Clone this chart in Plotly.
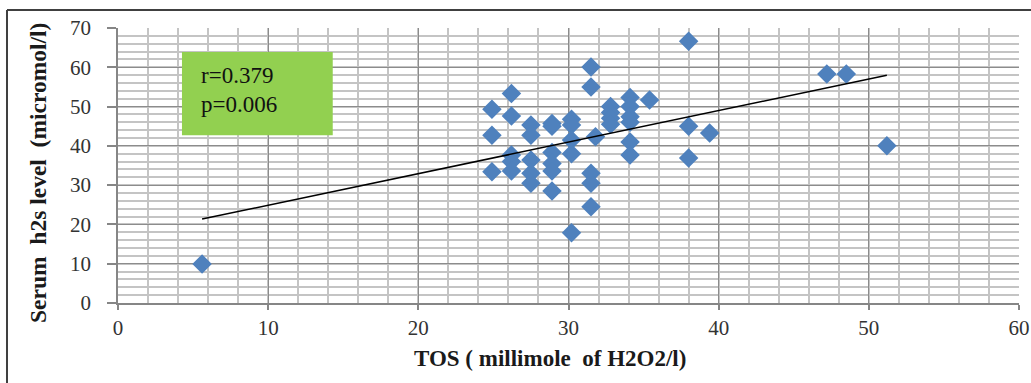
import numpy as np
import plotly.graph_objects as go

# TOS (millimole of H2O2/l) and serum H2S (micromol/l)
tos = [5.6,
       24.9, 24.9, 24.9,
       26.2, 26.2, 26.2, 26.2, 26.2,
       27.5, 27.5, 27.5, 27.5, 27.5,
       28.9, 28.9, 28.9, 28.9, 28.9, 28.9,
       30.2, 30.2, 30.2, 30.2, 30.2,
       31.5, 31.5, 31.5, 31.5, 31.5,
       31.8,
       32.8, 32.8, 32.8, 32.8,
       34.1, 34.1, 34.1, 34.1, 34.1, 34.1,
       35.4,
       38.0, 38.0, 38.0,
       39.4,
       47.2, 48.5, 51.2]
h2s = [9.9,
       49.3, 42.7, 33.4,
       53.3, 47.6, 37.7, 36.0, 33.6,
       45.3, 42.7, 36.4, 33.0, 30.5,
       45.7, 45.0, 38.3, 35.5, 33.6, 28.5,
       46.8, 45.3, 41.5, 38.0, 17.9,
       60.1, 55.0, 33.0, 30.5, 24.5,
       42.3,
       50.0, 48.5, 47.0, 45.5,
       52.3, 50.0, 47.4, 46.0, 41.0, 37.7,
       51.7,
       66.6, 45.0, 36.9,
       43.3,
       58.3, 58.3, 40.0]
x_ticks = [0, 10, 20, 30, 40, 50, 60]
y_ticks = [0, 10, 20, 30, 40, 50, 60, 70]
stats_lines = ["r=0.379", "p=0.006"]
x_title = "<b>TOS ( millimole &nbsp;of H2O2/l)</b>"
y_title = "<b>Serum &nbsp;h2s level &nbsp;(micromol/l)</b>"

x = np.array(tos)
y = np.array(h2s)
slope, intercept = np.polyfit(x, y, 1)
xl = np.array([x.min(), x.max()])
yl = intercept + slope * xl

FONT = "Liberation Serif"

fig = go.Figure()
fig.add_trace(go.Scatter(x=tos, y=h2s, mode="markers",
                         marker=dict(symbol="diamond", size=15, color="#4F81BD",
                                     line=dict(width=0)),
                         showlegend=False, hoverinfo="x+y"))
fig.add_trace(go.Scatter(x=xl, y=yl, mode="lines",
                         line=dict(color="black", width=1.5),
                         showlegend=False, hoverinfo="skip"))

axis_common = dict(
    showline=True, linecolor="#868686", linewidth=1.5,
    ticks="outside", tickcolor="#868686", tickwidth=1.5,
    showgrid=True, gridcolor="#8C8C8C", gridwidth=1.3,
    zeroline=False, mirror=False, automargin=False,
    tickfont=dict(family=FONT, size=21, color="#333333"),
    minor=dict(dtick=2, showgrid=True, gridcolor="#C4C4C4", gridwidth=1.6, ticks=""),
)

fig.update_xaxes(range=[0, 60], tickvals=x_ticks, ticklen=5, **axis_common)
fig.update_yaxes(range=[0, 70], tickvals=y_ticks, ticklen=9, ticklabelstandoff=12,
                 **axis_common)

# axis titles
fig.add_annotation(x=0.4795, y=-0.2, xref="paper", yref="paper", text=x_title,
                   showarrow=False, xanchor="center", yanchor="middle",
                   font=dict(family=FONT, size=23, color="#1a1a1a"))
fig.add_annotation(x=-0.0888, y=0.4727, xref="paper", yref="paper", text=y_title,
                   showarrow=False, xanchor="center", yanchor="middle", textangle=-90,
                   font=dict(family=FONT, size=23.5, color="#1a1a1a"))

# green statistics box
fig.add_shape(type="rect", xref="x", yref="y", x0=4.26, x1=14.3, y0=42.7, y1=63.9,
              fillcolor="#92D050", line=dict(width=0), layer="above")
for txt, ypos in zip(stats_lines, [58.0, 50.6]):
    fig.add_annotation(x=5.4, y=ypos, xref="x", yref="y", text=txt,
                       showarrow=False, xanchor="left", yanchor="middle", align="left",
                       font=dict(family=FONT, size=23, color="#111111"))

# outer chart frame (partially cropped)
fig.add_shape(type="line", xref="paper", yref="paper", x0=-0.1232, x1=-0.1232,
              y0=-0.5, y1=1.0655, line=dict(color="#404040", width=2))
fig.add_shape(type="line", xref="paper", yref="paper", x0=-0.1232, x1=1.2,
              y0=1.0655, y1=1.0655, line=dict(color="#404040", width=2))

fig.update_layout(width=1031, height=383,
                  margin=dict(l=118, r=12, t=28, b=80),
                  paper_bgcolor="white", plot_bgcolor="white",
                  font=dict(family=FONT))

# remove the page's default body margin so the figure fills the window exactly
fig.write_html("out.html", config={"displayModeBar": False},
               post_script="document.body.style.margin='0';document.body.style.overflow='hidden';")
